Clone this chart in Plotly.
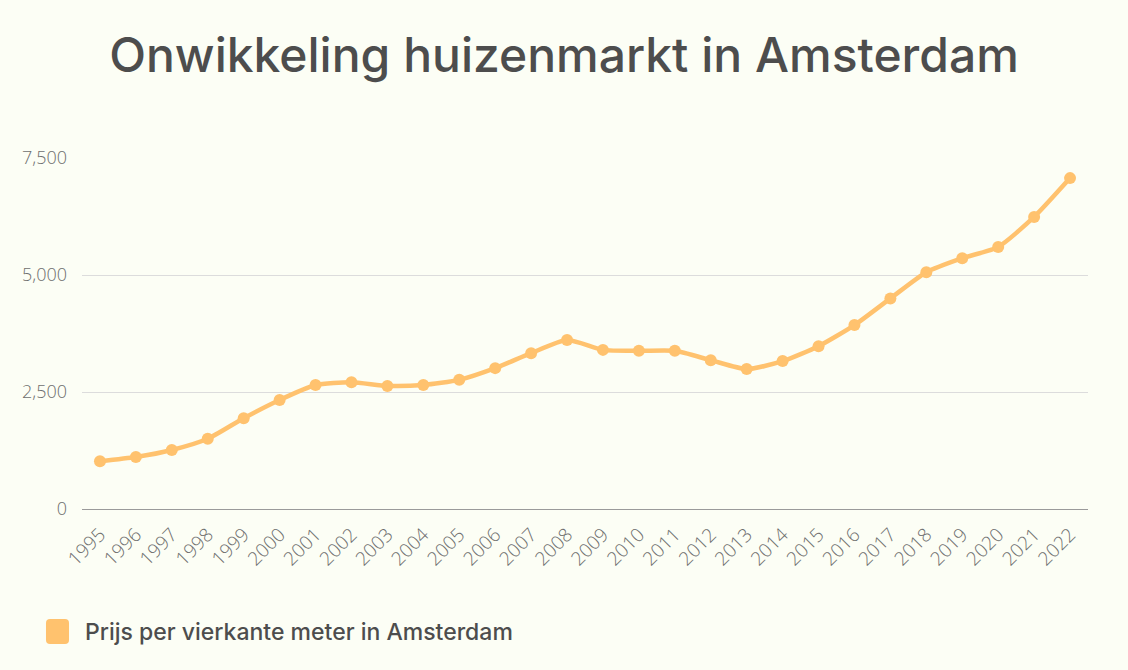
import plotly.graph_objects as go

years = [str(y) for y in range(1995, 2023)]
prices = [1020, 1110, 1260, 1500, 1940, 2330, 2650, 2710, 2630, 2650, 2760,
          3010, 3330, 3610, 3400, 3380, 3380, 3180, 2990, 3160, 3480, 3930,
          4500, 5060, 5360, 5600, 6240, 7070]
series_name = "Prijs per vierkante meter in Amsterdam"
title_text = "Onwikkeling huizenmarkt in Amsterdam"
y_ticks = [0, 2500, 5000, 7500]

line_color = "#FFC26E"
bg = "#FCFEF5"

fig = go.Figure()
fig.add_trace(go.Scatter(
    x=years, y=prices, mode="lines+markers", name=series_name,
    line=dict(color=line_color, width=4.5, shape="spline", smoothing=0.6),
    marker=dict(color=line_color, size=12),
    showlegend=False,
))

fig.update_layout(
    width=1128, height=670,
    paper_bgcolor=bg, plot_bgcolor=bg,
    margin=dict(l=82, r=40, t=158, b=161),
    title=dict(text=title_text, x=0.5, xanchor="center", y=0.918, yanchor="middle",
               font=dict(family="Inter, Lato, sans-serif", size=48, color="#4d4d4d", weight=500)),
    xaxis=dict(type="category", range=[-0.5, 27.5], tickangle=-45,
               showgrid=False, showline=True, linecolor="#9a9a9a", linewidth=1,
               ticks="", ticklabelstandoff=6,
               tickfont=dict(family="Open Sans, sans-serif", size=19, color="#6e6e6e", weight=300)),
    yaxis=dict(range=[0, 7500], tickvals=y_ticks, tickformat=",", showgrid=True,
               gridcolor="#dcdcdc", gridwidth=1, zeroline=False, ticks="",
               ticklabelstandoff=14,
               tickfont=dict(family="Open Sans, sans-serif", size=18, color="#6e6e6e", weight=300)),
    shapes=[dict(type="path", xref="paper", yref="paper",
                 path="M -0.0318,-0.3134 L -0.0169,-0.3134 Q -0.0129,-0.3134 -0.0129,-0.3248 "
                      "L -0.0129,-0.3732 Q -0.0129,-0.3846 -0.0169,-0.3846 L -0.0318,-0.3846 "
                      "Q -0.0358,-0.3846 -0.0358,-0.3732 L -0.0358,-0.3248 Q -0.0358,-0.3134 -0.0318,-0.3134 Z",
                 fillcolor=line_color, line=dict(width=0))],
    annotations=[dict(text=series_name, xref="paper", yref="paper", x=0.0007, y=-0.3504,
                      xanchor="left", yanchor="middle", showarrow=False,
                      font=dict(family="Inter, Lato, sans-serif", size=23, color="#4d4d4d", weight=500))],
)

fig.write_html("out.html")
